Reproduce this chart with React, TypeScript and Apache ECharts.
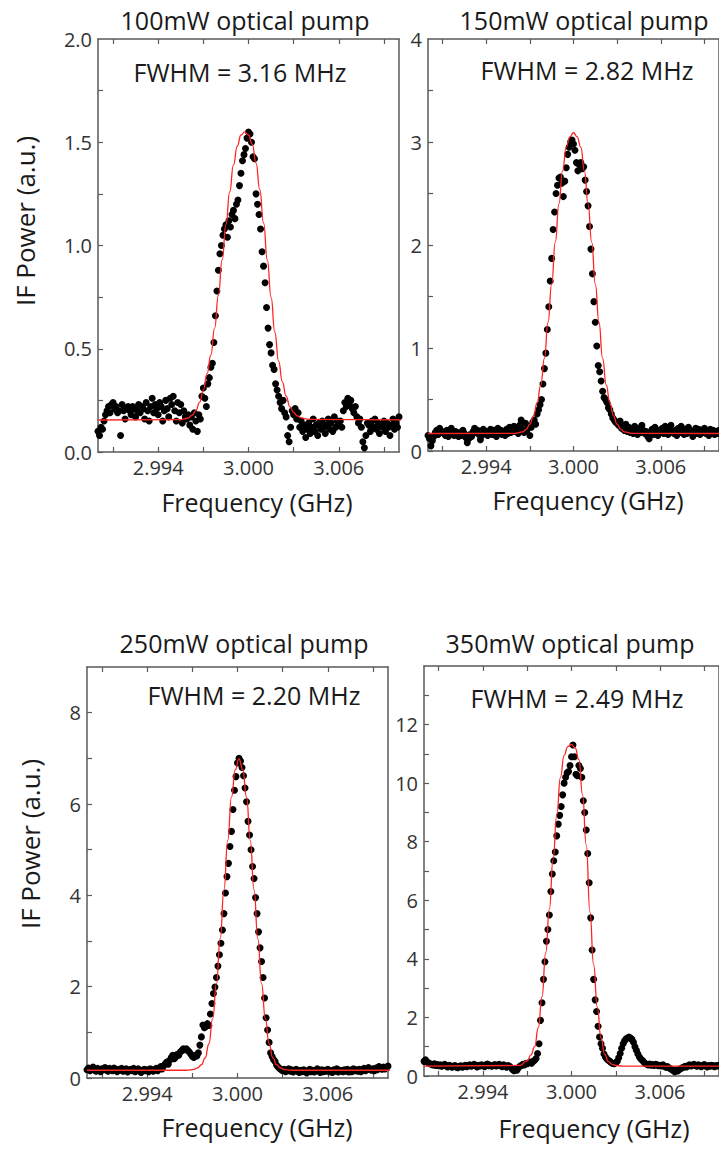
import React, { useEffect, useRef } from "react";
import * as echarts from "echarts";

// Frequency sweep grid (GHz) shared by all four measurements
const FREQ_START = 2.99;
const FREQ_STEP = 0.0001;

// Measured IF power (a.u.), one value per sweep step
const P100 = [
  0.10, 0.08, 0.12, 0.11, 0.15, 0.18, 0.20, 0.22, 0.19, 0.23,
  0.24, 0.21, 0.22, 0.19, 0.20, 0.08, 0.23, 0.20, 0.16, 0.21,
  0.22, 0.20, 0.18, 0.22, 0.21, 0.17, 0.20, 0.23, 0.19, 0.22,
  0.21, 0.16, 0.24, 0.20, 0.15, 0.22, 0.26, 0.19, 0.23, 0.21,
  0.18, 0.24, 0.22, 0.15, 0.20, 0.25, 0.21, 0.17, 0.26, 0.23,
  0.27, 0.20, 0.15, 0.24, 0.19, 0.23, 0.14, 0.20, 0.17, 0.16,
  0.18, 0.13, 0.17, 0.11, 0.19, 0.15, 0.10, 0.18, 0.16, 0.27,
  0.31, 0.26, 0.22, 0.33, 0.36, 0.41, 0.43, 0.53, 0.66, 0.78,
  0.88, 0.96, 1.00, 1.05, 1.08, 1.10, 1.04, 1.12, 1.09, 1.15,
  1.17, 1.13, 1.20, 1.22, 1.29, 1.35, 1.41, 1.44, 1.47, 1.52,
  1.55, 1.54, 1.50, 1.43, 1.42, 1.25, 1.20, 1.15, 1.08, 0.97,
  0.90, 0.82, 0.70, 0.60, 0.52, 0.48, 0.42, 0.40, 0.33, 0.30,
  0.27, 0.24, 0.21, 0.25, 0.19, 0.17, 0.08, 0.05, 0.12, 0.20,
  0.18, 0.21, 0.16, 0.19, 0.12, 0.15, 0.10, 0.13, 0.07, 0.11,
  0.14, 0.09, 0.12, 0.16, 0.10, 0.13, 0.08, 0.14, 0.11, 0.15,
  0.12, 0.09, 0.13, 0.16, 0.11, 0.14, 0.10, 0.17, 0.12, 0.15,
  0.13, 0.15, 0.12, 0.20, 0.24, 0.22, 0.26, 0.23, 0.25, 0.21,
  0.19, 0.22, 0.17, 0.14, 0.16, 0.12, 0.05, 0.02, 0.08, 0.14,
  0.13, 0.10, 0.15, 0.12, 0.16, 0.11, 0.14, 0.09, 0.13, 0.12,
  0.15, 0.10, 0.14, 0.12, 0.08, 0.13, 0.16, 0.11, 0.14, 0.12, 0.17,
];

const P150 = [
  0.15, 0.12, 0.05, 0.10, 0.14, 0.18, 0.20, 0.16, 0.22, 0.18,
  0.19, 0.17, 0.15, 0.20, 0.14, 0.17, 0.22, 0.18, 0.15, 0.19,
  0.16, 0.14, 0.18, 0.15, 0.20, 0.17, 0.13, 0.08, 0.12, 0.16,
  0.14, 0.19, 0.22, 0.18, 0.20, 0.16, 0.11, 0.15, 0.21, 0.17,
  0.19, 0.15, 0.18, 0.21, 0.16, 0.20, 0.17, 0.14, 0.22, 0.18,
  0.20, 0.16, 0.19, 0.15, 0.21, 0.17, 0.23, 0.18, 0.20, 0.24,
  0.19, 0.22, 0.17, 0.25, 0.30, 0.21, 0.18, 0.27, 0.20, 0.24,
  0.15, 0.23, 0.28, 0.30, 0.26, 0.36, 0.40, 0.45, 0.50, 0.65,
  0.80, 0.95, 1.18, 1.40, 1.65, 1.87, 2.15, 2.32, 2.50, 2.58,
  2.65, 2.66, 2.60, 2.47, 2.62, 2.75, 2.88, 2.95, 3.00, 3.02,
  2.98, 2.92, 2.80, 2.72, 2.78, 2.80, 2.74, 2.76, 2.63, 2.52,
  2.38, 2.18, 1.96, 1.72, 1.45, 1.25, 1.02, 0.83, 0.77, 0.68,
  0.58, 0.52, 0.50, 0.47, 0.42, 0.40, 0.36, 0.32, 0.30, 0.28,
  0.27, 0.25, 0.29, 0.22, 0.24, 0.20, 0.26, 0.19, 0.23, 0.18,
  0.21, 0.17, 0.24, 0.19, 0.16, 0.22, 0.18, 0.25, 0.20, 0.17,
  0.19, 0.14, 0.12, 0.18, 0.21, 0.16, 0.23, 0.19, 0.15, 0.20,
  0.18, 0.22, 0.17, 0.24, 0.20, 0.16, 0.21, 0.25, 0.19, 0.17,
  0.20, 0.15, 0.22, 0.18, 0.24, 0.19, 0.16, 0.21, 0.17, 0.23,
  0.20, 0.18, 0.14, 0.19, 0.22, 0.17, 0.21, 0.16, 0.20, 0.18,
  0.22, 0.17, 0.19, 0.15, 0.21, 0.18, 0.20, 0.16, 0.19, 0.17, 0.20,
];

const P250 = [
  0.18, 0.22, 0.16, 0.20, 0.24, 0.17, 0.15, 0.21, 0.19, 0.14,
  0.20, 0.18, 0.23, 0.17, 0.15, 0.21, 0.19, 0.16, 0.22, 0.18,
  0.14, 0.19, 0.17, 0.21, 0.15, 0.18, 0.20, 0.13, 0.17, 0.19,
  0.16, 0.21, 0.14, 0.18, 0.20, 0.15, 0.12, 0.17, 0.19, 0.16,
  0.18, 0.14, 0.20, 0.17, 0.15, 0.19, 0.21, 0.16, 0.22, 0.25,
  0.20, 0.27, 0.31, 0.35, 0.30, 0.39, 0.45, 0.50, 0.42, 0.46,
  0.52, 0.50, 0.57, 0.60, 0.64, 0.62, 0.64, 0.60, 0.57, 0.52,
  0.47, 0.45, 0.50, 0.48, 0.55, 0.72, 0.90, 1.16, 1.10, 1.13,
  1.19, 1.15, 1.40, 1.63, 1.85, 1.99, 2.20, 2.45, 2.70, 2.95,
  3.24, 3.60, 4.05, 4.41, 4.70, 5.07, 5.40, 5.88, 6.30, 6.60,
  6.90, 7.00, 6.94, 6.80, 6.62, 6.35, 6.05, 5.62, 5.32, 5.00,
  4.63, 4.37, 3.95, 3.60, 3.20, 2.85, 2.55, 2.20, 1.75, 1.32,
  1.05, 0.78, 0.55, 0.47, 0.40, 0.36, 0.28, 0.24, 0.21, 0.18,
  0.16, 0.19, 0.14, 0.17, 0.20, 0.15, 0.18, 0.13, 0.16, 0.19,
  0.15, 0.12, 0.17, 0.14, 0.18, 0.16, 0.11, 0.15, 0.19, 0.14,
  0.17, 0.13, 0.16, 0.20, 0.15, 0.12, 0.18, 0.14, 0.17, 0.15,
  0.19, 0.14, 0.16, 0.12, 0.18, 0.15, 0.20, 0.13, 0.17, 0.16,
  0.14, 0.18, 0.15, 0.19, 0.13, 0.17, 0.14, 0.20, 0.16, 0.18,
  0.15, 0.19, 0.14, 0.17, 0.21, 0.16, 0.18, 0.23, 0.19, 0.17,
  0.20, 0.16, 0.22, 0.18, 0.25, 0.21, 0.19, 0.24, 0.20, 0.23, 0.26,
];

const P350 = [
  0.50, 0.55, 0.48, 0.45, 0.42, 0.40, 0.38, 0.42, 0.36, 0.39,
  0.35, 0.38, 0.33, 0.36, 0.40, 0.34, 0.31, 0.37, 0.35, 0.30,
  0.33, 0.36, 0.30, 0.28, 0.33, 0.35, 0.30, 0.34, 0.37, 0.32,
  0.35, 0.38, 0.33, 0.36, 0.40, 0.35, 0.31, 0.37, 0.34, 0.38,
  0.36, 0.32, 0.38, 0.41, 0.35, 0.37, 0.33, 0.36, 0.39, 0.34,
  0.37, 0.40, 0.35, 0.32, 0.38, 0.34, 0.30, 0.36, 0.33, 0.28,
  0.22, 0.18, 0.25, 0.20, 0.28, 0.33, 0.36, 0.40, 0.38, 0.43,
  0.42, 0.45, 0.48, 0.44, 0.50, 0.54, 0.60, 0.77, 1.10, 1.90,
  2.50, 3.30, 3.90, 4.60, 5.00, 5.50, 6.30, 6.90, 7.35, 7.65,
  8.20, 8.60, 8.90, 9.20, 9.60, 10.00, 10.20, 10.35, 10.40, 10.60,
  10.90, 11.30, 10.90, 10.30, 10.25, 10.60, 10.50, 10.20, 9.40, 9.00,
  8.40, 7.60, 6.60, 5.40, 4.30, 3.30, 2.60, 2.20, 1.70, 1.33,
  1.10, 0.95, 0.75, 0.65, 0.58, 0.54, 0.50, 0.45, 0.43, 0.42,
  0.45, 0.50, 0.62, 0.77, 0.95, 1.10, 1.20, 1.27, 1.30, 1.33,
  1.30, 1.25, 1.15, 1.00, 0.88, 0.75, 0.65, 0.58, 0.54, 0.48,
  0.43, 0.40, 0.38, 0.41, 0.37, 0.39, 0.36, 0.40, 0.38, 0.35,
  0.37, 0.34, 0.38, 0.33, 0.30, 0.32, 0.28, 0.25, 0.22, 0.18,
  0.15, 0.20, 0.17, 0.22, 0.25, 0.28, 0.30, 0.33, 0.31, 0.35,
  0.38, 0.34, 0.37, 0.40, 0.36, 0.33, 0.38, 0.35, 0.32, 0.36,
  0.39, 0.34, 0.31, 0.36, 0.33, 0.37, 0.35, 0.32, 0.36, 0.34, 0.37,
];

// Fitted curves (red)
const FIT100_X = [2.99, 2.9955, 2.99575, 2.996, 2.99625, 2.9965, 2.99675, 2.997, 2.99725, 2.9975, 2.99775, 2.998, 2.99825, 2.9985, 2.99875, 2.999, 2.99925, 2.9995, 2.99975, 3.0, 3.00025, 3.0005, 3.00075, 3.001, 3.00125, 3.0015, 3.00175, 3.002, 3.00225, 3.0025, 3.00275, 3.003, 3.00325, 3.0035, 3.004, 3.0103];
const FIT100_Y = [0.155, 0.157, 0.16, 0.165, 0.178, 0.2, 0.24, 0.3, 0.38, 0.47, 0.6, 0.76, 0.93, 1.1, 1.26, 1.39, 1.48, 1.535, 1.55, 1.535, 1.49, 1.4, 1.27, 1.11, 0.93, 0.75, 0.58, 0.44, 0.34, 0.27, 0.22, 0.19, 0.175, 0.165, 0.158, 0.155];

const FIT150_X = [2.99, 2.996, 2.9965, 2.99675, 2.997, 2.99725, 2.9975, 2.99775, 2.998, 2.99825, 2.9985, 2.99875, 2.999, 2.99925, 2.9995, 2.99975, 3.0, 3.00025, 3.0005, 3.00075, 3.001, 3.00125, 3.0015, 3.00175, 3.002, 3.00225, 3.0025, 3.00275, 3.003, 3.00325, 3.0035, 3.004, 3.0103];
const FIT150_Y = [0.17, 0.172, 0.185, 0.21, 0.26, 0.34, 0.47, 0.64, 0.9, 1.25, 1.62, 2.03, 2.4, 2.72, 2.95, 3.05, 3.09, 3.05, 2.95, 2.72, 2.4, 2.03, 1.62, 1.25, 0.9, 0.64, 0.47, 0.34, 0.26, 0.21, 0.185, 0.172, 0.17];

const FIT250_X = [2.99, 2.9966, 2.9971, 2.99735, 2.9976, 2.99785, 2.9981, 2.99835, 2.9986, 2.99885, 2.9991, 2.99935, 2.9996, 2.99985, 3.0001, 3.00035, 3.0006, 3.00085, 3.0011, 3.00135, 3.0016, 3.00185, 3.0021, 3.00235, 3.0026, 3.00285, 3.0031, 3.0036, 3.0103];
const FIT250_Y = [0.17, 0.17, 0.19, 0.22, 0.29, 0.44, 0.75, 1.3, 2.06, 3.05, 4.12, 5.2, 6.15, 6.75, 6.99, 6.75, 6.15, 5.2, 4.12, 3.05, 2.06, 1.3, 0.75, 0.44, 0.29, 0.22, 0.19, 0.17, 0.17];

const FIT350_X = [2.99, 2.9965, 2.997, 2.99725, 2.9975, 2.99775, 2.998, 2.99825, 2.9985, 2.99875, 2.999, 2.99925, 2.9995, 2.99975, 3.0, 3.00025, 3.0005, 3.00075, 3.001, 3.00125, 3.0015, 3.00175, 3.002, 3.00225, 3.0025, 3.00275, 3.003, 3.0035, 3.0103];
const FIT350_Y = [0.34, 0.36, 0.52, 0.72, 1.0, 1.65, 2.7, 4.2, 5.7, 7.4, 8.9, 10.2, 10.95, 11.25, 11.32, 11.2, 10.8, 9.6, 7.9, 5.6, 3.8, 2.35, 1.3, 0.75, 0.49, 0.4, 0.36, 0.34, 0.34];

// Axis ticks and labels
const X_MIN = 2.99;
const X_MAX = 3.01;
const X_TICKS = [2.991, 2.994, 2.997, 3.0, 3.003, 3.006, 3.009];
const X_LABELS = [2.994, 3.0, 3.006];
const Y_MAX = [2, 4, 9, 14];
const Y_LABELS = [
  [0, 0.5, 1, 1.5, 2],
  [0, 1, 2, 3, 4],
  [0, 2, 4, 6, 8],
  [0, 2, 4, 6, 8, 10, 12],
];
const Y_TICKS = [
  [0, 0.25, 0.5, 0.75, 1, 1.25, 1.5, 1.75],
  [0, 0.5, 1, 1.5, 2, 2.5, 3, 3.5],
  [0, 1, 2, 3, 4, 5, 6, 7, 8],
  [0, 1, 2, 3, 4, 5, 6, 7, 8, 9, 10, 11, 12, 13],
];
const Y_DECIMALS = [1, 0, 0, 0];

const TITLES = ["100mW optical pump", "150mW optical pump", "250mW optical pump", "350mW optical pump"];
const FWHM_LABELS = ["FWHM = 3.16 MHz", "FWHM = 2.82 MHz", "FWHM = 2.20 MHz", "FWHM = 2.49 MHz"];
const X_NAME = "Frequency (GHz)";
const Y_NAME = "IF Power (a.u.)";

const MEASURED = [P100, P150, P250, P350];
const FITS_X = [FIT100_X, FIT150_X, FIT250_X, FIT350_X];
const FITS_Y = [FIT100_Y, FIT150_Y, FIT250_Y, FIT350_Y];

// Layout (pixels)
const GRIDS = [
  { left: 98, top: 39, width: 301, height: 413 },
  { left: 428, top: 39, width: 301, height: 412 },
  { left: 87, top: 667, width: 301, height: 411 },
  { left: 424, top: 666, width: 301, height: 410 },
];
const TITLE_POS = [[245, 20], [584, 20], [244, 643], [570, 643]];
const FWHM_POS = [[240, 72], [587, 70], [254, 695], [577, 698]];
const XNAME_POS = [[257, 502], [588, 500], [257, 1127], [594, 1128]];
const YNAME_POS = [[25, 221], [30, 844]];

const FONT = "'Open Sans', 'Noto Sans', sans-serif";
const AXIS_COLOR = "#5a5a5a";

function buildOption() {
  const xAxis: any[] = [];
  const yAxis: any[] = [];
  const series: any[] = [];
  const graphic: any[] = [];

  GRIDS.forEach((_, p) => {
    const lineStyle = { color: AXIS_COLOR, width: 1.5 };
    const tickStyle = { color: AXIS_COLOR, width: 1.2 };
    xAxis.push({
      type: "value",
      gridIndex: p,
      min: X_MIN,
      max: X_MAX,
      position: "bottom",
      axisLine: { show: true, onZero: false, lineStyle },
      axisTick: { show: true, inside: true, length: 5, customValues: X_TICKS, lineStyle: tickStyle },
      axisLabel: {
        show: true,
        customValues: X_LABELS,
        formatter: (v: number) => v.toFixed(3),
        fontSize: 20,
        color: "#333",
        fontFamily: FONT,
        margin: 5,
      },
      splitLine: { show: false },
    });
    xAxis.push({
      type: "value",
      gridIndex: p,
      min: X_MIN,
      max: X_MAX,
      position: "top",
      axisLine: { show: true, onZero: false, lineStyle },
      axisTick: { show: true, inside: true, length: 5, customValues: X_TICKS, lineStyle: tickStyle },
      axisLabel: { show: false },
      splitLine: { show: false },
    });
    const dec = Y_DECIMALS[p];
    yAxis.push({
      type: "value",
      gridIndex: p,
      min: 0,
      max: Y_MAX[p],
      position: "left",
      axisLine: { show: true, onZero: false, lineStyle },
      axisTick: { show: true, inside: true, length: 5, customValues: Y_TICKS[p], lineStyle: tickStyle },
      axisLabel: {
        show: true,
        customValues: Y_LABELS[p],
        formatter: (v: number) => v.toFixed(dec),
        fontSize: 20,
        color: "#333",
        fontFamily: FONT,
        margin: 6,
      },
      splitLine: { show: false },
    });
    yAxis.push({
      type: "value",
      gridIndex: p,
      min: 0,
      max: Y_MAX[p],
      position: "right",
      axisLine: { show: true, onZero: false, lineStyle },
      axisTick: { show: false },
      axisLabel: { show: false },
      splitLine: { show: false },
    });

    series.push({
      type: "scatter",
      xAxisIndex: 2 * p,
      yAxisIndex: 2 * p,
      data: MEASURED[p].map((v, i) => [FREQ_START + i * FREQ_STEP, v]),
      symbol: "circle",
      symbolSize: 7,
      itemStyle: { color: "#000000", opacity: 1 },
      silent: true,
      z: 2,
    });
    series.push({
      type: "line",
      xAxisIndex: 2 * p,
      yAxisIndex: 2 * p,
      data: FITS_X[p].map((x, i) => [x, FITS_Y[p][i]]),
      showSymbol: false,
      smooth: 0.5,
      smoothMonotone: "x",
      lineStyle: { color: "#ff2424", width: 1.3 },
      silent: true,
      z: 3,
    });

    graphic.push({
      type: "text",
      x: TITLE_POS[p][0],
      y: TITLE_POS[p][1],
      style: { text: TITLES[p], align: "center", verticalAlign: "middle", fontSize: 25, fontFamily: FONT, fill: "#1a1a1a" },
    });
    graphic.push({
      type: "text",
      x: FWHM_POS[p][0],
      y: FWHM_POS[p][1],
      style: { text: FWHM_LABELS[p], align: "center", verticalAlign: "middle", fontSize: 25, fontFamily: FONT, fill: "#1a1a1a" },
    });
    graphic.push({
      type: "text",
      x: XNAME_POS[p][0],
      y: XNAME_POS[p][1],
      style: { text: X_NAME, align: "center", verticalAlign: "middle", fontSize: 25, fontFamily: FONT, fill: "#1a1a1a" },
    });
  });

  YNAME_POS.forEach(([x, y]) => {
    graphic.push({
      type: "text",
      x,
      y,
      rotation: Math.PI / 2,
      style: { text: Y_NAME, align: "center", verticalAlign: "middle", fontSize: 26, fontFamily: FONT, fill: "#1a1a1a" },
    });
  });

  return {
    animation: false,
    backgroundColor: "#ffffff",
    grid: GRIDS.map((g) => ({ ...g, containLabel: false })),
    xAxis,
    yAxis,
    series,
    graphic,
  };
}

export default function App() {
  const ref = useRef<HTMLDivElement>(null);
  useEffect(() => {
    if (!ref.current) return;
    const chart = echarts.init(ref.current, undefined, { renderer: "svg" });
    chart.setOption(buildOption() as any);
    return () => chart.dispose();
  }, []);
  return (
    <div
      ref={ref}
      style={{ position: "absolute", left: 0, top: 0, width: 719, height: 1160, background: "#fff" }}
    />
  );
}
